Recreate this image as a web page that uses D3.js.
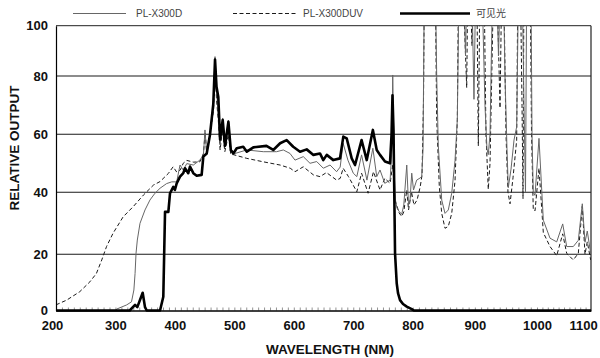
<!DOCTYPE html>
<html><head><meta charset="utf-8">
<script src="https://cdn.jsdelivr.net/npm/d3@7/dist/d3.min.js"></script>
<style>body{margin:0;background:#fff}</style>
</head><body><svg id="c" width="600" height="358"></svg>
<script>
const seriesNames = ["PL-X300D", "PL-X300DUV", "可见光"];
const xTicks = [200, 300, 400, 500, 600, 700, 800, 900, 1000, 1100];
const yTicks = [0, 20, 40, 60, 80, 100];
const xTitle = "WAVELENGTH (NM)";
const yTitle = "RELATIVE OUTPUT";

const plX300D = [[200,0],[300,0],[302,0.5],[319,2],[327,3.1],[331,7.3],[333,13.2],[334.6,20.3],[336.8,24.6],[341.3,30],[349.7,34.3],[358,37.5],[366.5,39.7],[375,41.4],[386,43],[394.6,43.6],[403,43.6],[408.6,49.4],[414,47.7],[420,49.9],[431,49.4],[442,51.1],[448,52.9],[450.6,61.5],[453.5,53.4],[459,59.8],[464.6,70],[467.5,87.7],[470,75.5],[473,66.6],[476,56.3],[480.4,65.6],[484.3,56.3],[490,64.9],[494,55.3],[495.6,54.6],[501.2,53.4],[520.8,54.6],[548.7,54],[571,54],[582.4,54.6],[593.6,53.4],[602,51.1],[616,52.3],[627.3,50],[638.5,50.6],[649.6,48.3],[661,49.4],[672,47.1],[678,48.7],[683,56.9],[691,51.1],[700,46.6],[706,45.4],[714,52.9],[723,44.2],[733,55.2],[739.5,45.4],[745,47.7],[753,43.1],[762,44.2],[765,54.6],[766.4,80.4],[767.7,64.9],[769,46],[771,37.5],[773.6,34.9],[777,33.9],[781.5,32.9],[785,35.9],[790,49.4],[793,35.9],[795.5,37.5],[798.4,46.6],[801.3,40.8],[806.4,44.2],[811.7,44.9],[814.5,45.4],[816.6,54.6],[819,125],[828,130],[836,125],[838.6,80],[841.2,56],[846.7,37.5],[852,33.2],[857.3,34.3],[862.8,39.7],[868.1,51],[871.8,65],[875,125],[880,130],[883,110],[885,88],[888,125],[892,120],[895.4,112],[898.6,72],[901.5,118],[906,125],[910,120],[913.1,100],[916.3,70],[919.5,55],[921.6,53],[924.4,60],[929.2,125],[934,130],[938,88],[940.5,110],[945.3,125],[948.5,80],[951.7,55],[953.8,41.6],[958.2,48],[963,58],[967.3,62.6],[969.4,100],[972.6,125],[975.9,120],[979.1,70],[981.5,40.2],[983.5,120],[987,125],[990.3,115],[992,60],[994,40],[996.8,39],[1003.7,58.6],[1011.7,31],[1024.1,25.2],[1036.5,24],[1047.6,29.8],[1055,22.5],[1067.2,22.5],[1076.5,24.5],[1083.9,36.3],[1088.9,23.9],[1093.1,27.5],[1099.4,20.3]];

const plX300DUV = [[200,2],[218,3.7],[240,6.7],[257,10.2],[268,13.2],[277,18],[285,22.5],[296,26.8],[313,32.1],[330,35.4],[347,39.1],[364,42.5],[375,43.7],[389,46.5],[397,48.8],[403,47],[409,47.7],[414,50],[420,51],[431,50.4],[442,50.5],[448,53.4],[451,60.8],[453,54.6],[459,59.8],[465,68.3],[467.5,84],[470,71.8],[473,64.9],[476,54.6],[480,61.5],[484,54],[490,59.8],[494,53],[498,53],[521,51.7],[549,50.5],[577,49.4],[594,48.3],[602,47.1],[616,48.8],[633,46],[644,45.4],[655,46.8],[672,44.2],[678,44.8],[683,48.3],[692,45.4],[706,40.2],[714,46.6],[725,39.7],[734,47.1],[745,40.8],[753,44.8],[762,43.1],[766.4,49.4],[768.6,42.5],[770,37.5],[774,35.3],[777,33.4],[781.5,32.2],[785,33.7],[790,40.8],[793,34.3],[798,40.1],[802,35.9],[807,37.5],[812,41.8],[815,45.9],[817.4,71.8],[819,125],[826,130],[829,110],[833,128],[836,125],[838.6,65],[842.8,42],[846.7,33.2],[852,28.4],[857.3,29],[862.8,33.2],[868.1,44],[871.8,65],[874,125],[879,130],[882.5,105],[886.9,76],[889,125],[892,120],[895.4,92],[898.6,125],[903,120],[905.6,56],[908.3,120],[910,125],[914.7,120],[917.9,60],[921.6,41],[924.4,50],[930.8,125],[934,130],[937.2,100],[940.5,69],[943.7,125],[946.9,110],[950.1,60],[953.3,40],[956.6,36.3],[961.4,45],[967.3,58],[969.4,125],[972.6,130],[975.9,70],[977.5,38],[979.1,125],[983.9,130],[988.7,125],[991.2,60],[994,34.4],[996.8,34],[1003.7,48.3],[1011.7,27],[1024.1,22.5],[1036.5,19.5],[1047.6,26.6],[1055,20.3],[1067.2,18],[1076.5,20.3],[1083.9,35.5],[1088.9,20],[1093.1,24],[1099.4,18]];

const visibleLight = [[200,0],[324,0],[333,2],[336.8,1.2],[345.8,6.3],[349.7,1.2],[352.6,0],[375,0],[380.5,4.9],[383.4,33.7],[389,33.7],[391.8,39.7],[397.3,41.9],[400,40.8],[403,43.1],[408.6,45.4],[414.1,46.6],[417,48.3],[422.5,46.6],[425.4,48.9],[431,46.6],[436.7,45.7],[445,46],[447.8,52.3],[453.5,53.4],[459,59.8],[464.6,70.4],[467.5,86.5],[470,76.3],[473,72.8],[476,58.2],[480.4,64.9],[484.3,56],[490,64.3],[494,54.6],[498.3,53.4],[504,55.2],[515,55.7],[521,54],[532,55.5],[554,56],[565.5,54.6],[577,56.9],[588,58],[599,55.7],[610.5,54],[621.7,54.8],[633,52.9],[644,53.4],[649.6,51.1],[655.4,52.9],[666.5,51.1],[677.7,51.7],[683.3,59.2],[689,58.6],[697.4,51.7],[703,49.4],[714,58],[722.7,51.1],[733,61.5],[739.5,54.6],[745,52.9],[753.4,50.6],[761.8,50],[764.4,59.8],[766,73.4],[767.7,61.5],[770.3,20.3],[773.1,9.7],[775.3,6.2],[778.7,3.7],[783.7,2.3],[790,1.4],[798.4,0.5],[802,0],[1100,0]];

const svg = d3.select("#c");
const x = d3.scaleLinear().domain([200, 800, 1000, 1100]).range([56, 412.7, 537, 591]);
const y = d3.scaleLinear().domain([0, 20, 40, 60, 80, 100]).range([310.5, 254.3, 192.3, 134.3, 76, 25.7]);
const font = "'Liberation Sans', Arial, sans-serif";

// gridlines
svg.append("g").selectAll("line").data(yTicks.filter(v => v > 0 && v < 100)).join("line")
  .attr("x1", x(200)).attr("x2", x(1100)).attr("y1", d => y(d)).attr("y2", d => y(d))
  .attr("stroke", "#1a1a1a").attr("stroke-width", 1.1);

// frame top/right
svg.append("line").attr("x1", x(200)).attr("x2", x(1100)).attr("y1", y(100)).attr("y2", y(100)).attr("stroke", "#222").attr("stroke-width", 1);
svg.append("line").attr("x1", x(1100)).attr("x2", x(1100)).attr("y1", y(100)).attr("y2", y(0)).attr("stroke", "#222").attr("stroke-width", 1.2);

// minor ticks
const minor = d3.range(200, 1101, 10);
svg.append("g").attr("transform", `translate(0,${y(0)})`)
  .call(d3.axisBottom(x).tickValues(minor).tickSize(-3).tickFormat(""))
  .call(g => g.select(".domain").remove())
  .call(g => g.selectAll("line").attr("stroke", "#777").attr("stroke-width", 0.8));

// clip
svg.append("defs").append("clipPath").attr("id", "clip").append("rect")
  .attr("x", x(200)).attr("y", y(100)).attr("width", x(1100) - x(200)).attr("height", y(0) - y(100) + 4);

const line = d3.line().x(d => x(d[0])).y(d => y(d[1]));
const lines = svg.append("g").attr("clip-path", "url(#clip)");
lines.append("path").datum(plX300DUV).attr("d", line).attr("fill", "none")
  .attr("stroke", "#1a1a1a").attr("stroke-width", 1).attr("stroke-dasharray", "4,2.5");
lines.append("path").datum(plX300D).attr("d", line).attr("fill", "none")
  .attr("stroke", "#666").attr("stroke-width", 1);
lines.append("path").datum(visibleLight).attr("d", line).attr("fill", "none")
  .attr("stroke", "#000").attr("stroke-width", 2.6).attr("stroke-linejoin", "round");

// axes
const xAxis = svg.append("g").attr("transform", `translate(0,${y(0)})`)
  .call(d3.axisBottom(x).tickValues(xTicks).tickSize(0).tickPadding(10).tickFormat(d3.format("d")));
xAxis.select(".domain").attr("stroke", "#000").attr("stroke-width", 1.6);
xAxis.selectAll("text").attr("font-family", font).attr("font-weight", "bold").attr("font-size", 13).attr("fill", "#111")
  .attr("dx", d => d === 1100 ? -8 : (d === 200 ? -4 : 0));

const yAxis = svg.append("g").attr("transform", `translate(${x(200)},0)`)
  .call(d3.axisLeft(y).tickValues(yTicks).tickSize(0).tickPadding(8));
yAxis.select(".domain").attr("stroke", "#000").attr("stroke-width", 1.2);
yAxis.selectAll("text").attr("font-family", font).attr("font-weight", "bold").attr("font-size", 13).attr("fill", "#111");

svg.append("text").attr("x", 330).attr("y", 354).attr("text-anchor", "middle")
  .attr("font-family", font).attr("font-weight", "bold").attr("font-size", 13.5).attr("fill", "#111").text(xTitle);
svg.append("text").attr("transform", "translate(19,148) rotate(-90)").attr("text-anchor", "middle")
  .attr("font-family", font).attr("font-weight", "bold").attr("font-size", 13.5).attr("fill", "#111").text(yTitle);

// legend
const legend = [
  {name: seriesNames[0], x1: 73, x2: 126, tx: 136, stroke: "#666", w: 1, dash: null},
  {name: seriesNames[1], x1: 233, x2: 297, tx: 303, stroke: "#1a1a1a", w: 1, dash: "4,2.5"},
  {name: seriesNames[2], x1: 400, x2: 470, tx: 476, stroke: "#000", w: 2.6, dash: null}
];
const lg = svg.append("g");
legend.forEach(l => {
  lg.append("line").attr("x1", l.x1).attr("x2", l.x2).attr("y1", 13.5).attr("y2", 13.5)
    .attr("stroke", l.stroke).attr("stroke-width", l.w).attr("stroke-dasharray", l.dash);
  lg.append("text").attr("x", l.tx).attr("y", 17).attr("font-size", 10)
    .attr("font-family", "'Liberation Sans', 'Noto Sans CJK SC', sans-serif").attr("fill", "#444").text(l.name);
});
</script></body></html>
